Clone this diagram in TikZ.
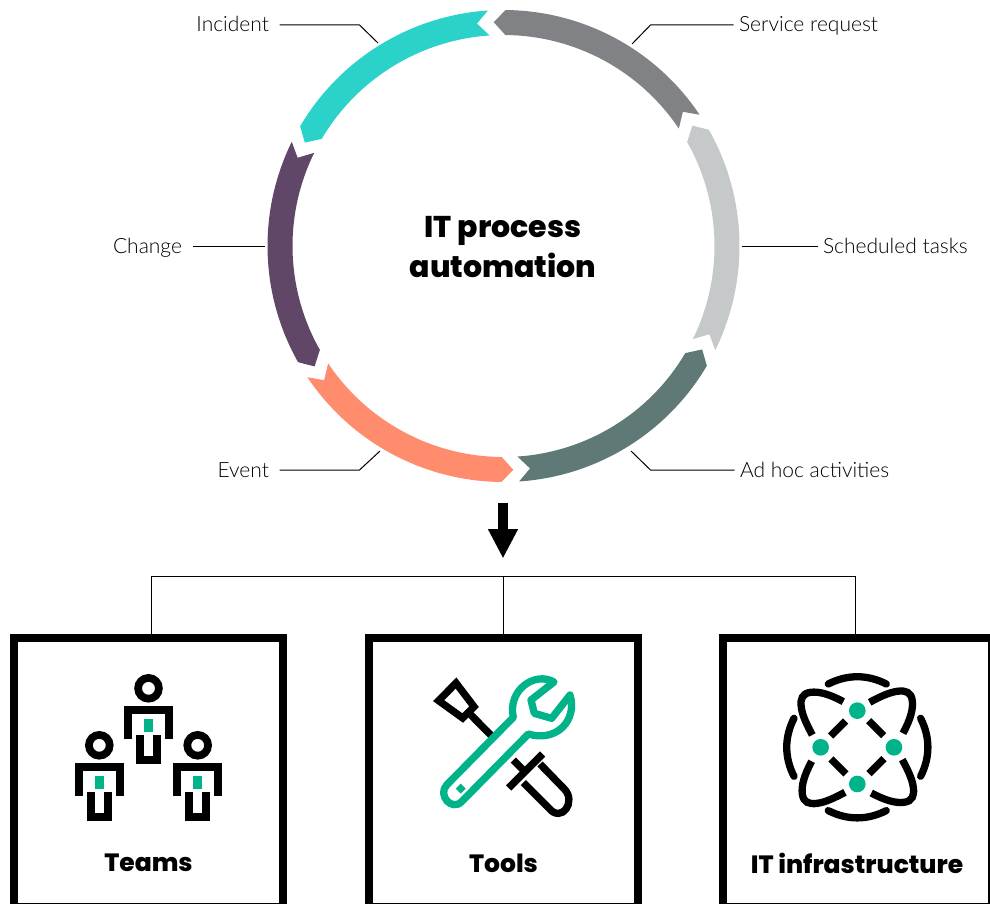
\documentclass[tikz,border=0pt]{standalone}
\usepackage{fontspec}
\setmainfont{Lato}
\newfontfamily\tagfont{Lato Light}
\newfontfamily\headfont{Poppins ExtraBold}
\usetikzlibrary{arrows.meta}

\definecolor{ringgray}{HTML}{808285}
\definecolor{ringpale}{HTML}{C6C9CA}
\definecolor{ringgreen}{HTML}{5F7A76}
\definecolor{ringorange}{HTML}{FF8D6D}
\definecolor{ringpurple}{HTML}{614767}
\definecolor{ringteal}{HTML}{2AD2C9}
\definecolor{hpegreen}{HTML}{00B388}

\tikzset{
  tag/.style={inner sep=0pt, outer sep=5.5pt, text height=16pt, text depth=2pt, font=\tagfont\fontsize{21}{24}\selectfont},
  tagleft/.style={tag, outer sep=10.5pt},
  head/.style={inner sep=0pt, font=\headfont\fontsize{25}{30}\selectfont},
  title/.style={inner sep=0pt, align=center, font=\headfont\fontsize{30}{40}\selectfont},
  frame/.style={draw, line width=8pt, minimum width=269pt, minimum height=269pt, inner sep=0pt, outer sep=4pt},
  leader/.style={line width=1pt},
  person/.pic={
    \draw [line width=7.7pt] (0,0) circle (10.4);
    \draw [line width=8pt] (-20.6,-51) -- (-20.6,-21.7) -- (20.6,-21.7) -- (20.6,-51);
    \draw [line width=8pt] (-8.3,-46.7) -- (-8.3,-71.4) -- (8.3,-71.4) -- (8.3,-46.7);
    \fill [hpegreen] (-4.5,-30.7) rectangle (4.5,-43.4);
  }
}

\begin{document}
\begin{tikzpicture}[x=1pt, y=1pt, line join=miter]
    \clip (0,0) rectangle (990,-904);

    % ring
    \begin{scope}[shift={(503.5,-246)}]
      \foreach \k/\col in {0/ringgray, 1/ringpale, 2/ringgreen, 3/ringorange, 4/ringpurple, 5/ringteal} {
        \pgfmathsetmacro{\a}{89.5-60*\k}
        \pgfmathsetmacro{\b}{33.8-60*\k}
        \fill [\col] (\a:236) arc[radius=236, start angle=\a, end angle=\b]
          -- (\b+3:224) -- (\b:211) arc[radius=211, start angle=\b, end angle=\a]
          -- (\a+3:224) -- cycle;
      }
    \end{scope}

    \node [title] (title) at (503,-247.5) {IT process\\automation};

    % labels
    \node [tagleft, anchor=east] (incident) at (279.5,-25) {Incident};
    \node [tag, anchor=west] (service) at (733.5,-25) {Service request};
    \node [tagleft, anchor=east] (change) at (192.5,-246) {Change};
    \node [tag, anchor=west] (scheduled) at (817.5,-246) {Scheduled tasks};
    \node [tagleft, anchor=east] (event) at (279.5,-470) {Event};
    \node [tag, anchor=west] (adhoc) at (734.5,-470) {Ad hoc activities};

    \coordinate (incidentend) at (378,-43);
    \coordinate (serviceend) at (632,-44);
    \coordinate (changeend) at (265,-246);
    \coordinate (scheduledend) at (742,-246);
    \coordinate (eventend) at (380,-451);
    \coordinate (adhocend) at (631,-451);

    \draw [leader] (incident.east) -- ++(80,0) -- (incidentend);
    \draw [leader] (service.west) -- ++(-83,0) -- (serviceend);
    \draw [leader] (change.east) -- (changeend);
    \draw [leader] (scheduled.west) -- (scheduledend);
    \draw [leader] (event.east) -- ++(80,0) -- (eventend);
    \draw [leader] (adhoc.west) -- ++(-84,0) -- (adhocend);

    % arrow and tree
    \coordinate (arrowtop) at (503,-502.5);
    \coordinate (arrowtip) at (503,-558.5);
    \draw [-{Triangle[length=29.5pt, width=28pt]}, line width=9.4pt] (arrowtop) -- (arrowtip);

    \node [frame] (teams) at (148.5,-772) {};
    \node [frame] (tools) at (503,-772) {};
    \node [frame] (infra) at (857.5,-772) {};

    \coordinate (branchl) at (151,-576);
    \coordinate (branchm) at (503,-576);
    \coordinate (branchr) at (855,-576);
    \draw [leader] (branchl) -- (branchr);
    \draw [leader] (branchl) -- (branchl |- teams.north);
    \draw [leader] (branchm) -- (branchm |- tools.north);
    \draw [leader] (branchr) -- (branchr |- infra.north);

    \node [head] (teamslabel) at (148.5,-863) {Teams};
    \node [head] (toolslabel) at (503.5,-863) {Tools};
    \node [head] (infralabel) at (857,-863) {IT infrastructure};

    % teams icon
    \pic at (148.5,-688.3) {person};
    \pic at (99.3,-745.3) {person};
    \pic at (197.7,-745.3) {person};

    % tools icon
    \begin{scope}[shift={(400,-660)}, yscale=-1, scale=0.3333]
      \draw [line width=7.3pt] (168,69) -- (222,140) -- (188,174) -- (116,122) -- cycle;
      \draw [line width=7.3pt] (203,155) -- (275,228);
      \draw [line width=7.3pt] (340,300) -- (378,338);
      \draw [line width=7.3pt] (428,282) -- (326,384);
      \draw [line width=7.3pt] (420,312) -- (493,387) .. controls (530,425) and (485,490) .. (447,445) -- (370,368);
      \draw [hpegreen, line width=7.3pt, line join=round] (462,66) .. controls (405,33) and (322,90) .. (340,172)
        -- (140,375) .. controls (112,405) and (155,455) .. (185,425) -- (385,222)
        .. controls (470,248) and (533,180) .. (510,105) -- (455,175) -- (403,160) -- (393,120) -- cycle;
      \fill [hpegreen] (182,371) -- (197,386) -- (182,401) -- (167,386) -- cycle;
    \end{scope}

    % infrastructure icon
    \foreach \rot in {0,90,180,270} {
      \begin{scope}[shift={(857.3,-747.3)}, rotate=\rot, scale=0.3333]
        \draw [line width=7.3pt, line cap=round] (-87,190) .. controls (-30,219) and (30,219) .. (87,190);
        \draw [line width=7.3pt] (-35,79) -- (-80,34);
        \draw [line width=7.3pt] (-42,137) .. controls (-85,160) and (-115,168) .. (-140,165) .. controls (-165,162) and (-172,145) .. (-168,120) .. controls (-165,95) and (-150,65) .. (-135,37);
        \fill [hpegreen] (0,110) circle (25);
      \end{scope}
    }
\end{tikzpicture}
\end{document}
